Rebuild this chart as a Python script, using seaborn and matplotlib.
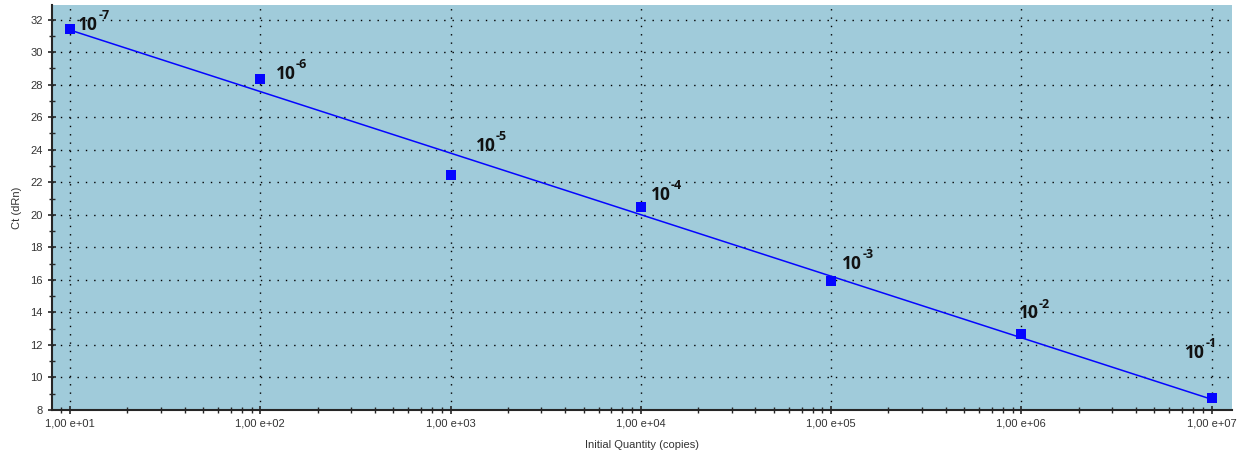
import numpy as np
import pandas as pd
import seaborn as sns
import matplotlib.pyplot as plt
from matplotlib.ticker import FuncFormatter, MultipleLocator, LogLocator, NullFormatter

# Data
quantity = [1e1, 1e2, 1e3, 1e4, 1e5, 1e6, 1e7]
ct = [31.45, 28.35, 22.45, 20.45, 15.95, 12.65, 8.75]
dilution = ['-7', '-6', '-5', '-4', '-3', '-2', '-1']
df = pd.DataFrame({'quantity': quantity, 'ct': ct})

sns.set_style('ticks')
plt.rcParams['font.family'] = ['Liberation Sans', 'DejaVu Sans']

fig = plt.figure(figsize=(12.49, 4.61), dpi=100)
ax = fig.add_axes([0.0416, 0.111, 0.9444, 0.878])
ax.set_facecolor('#a0cbda')

sns.regplot(data=df, x='quantity', y='ct', logx=True, ci=None, ax=ax,
            marker='s', color='#0505ff',
            scatter_kws={'s': 42, 'zorder': 4, 'linewidths': 0, 'alpha': 1},
            line_kws={'lw': 1.1, 'zorder': 3})

ax.set_xscale('log')
ax.set_xlim(10 ** 0.905, 10 ** 7.105)
ax.set_ylim(8, 32.9)

# label offsets (points) for each dilution: "10" then the exponent
offsets = [(6, -3.5), (11, -2.5), (18, 14.5), (7, 2.5), (8, 5.5), (-2, 8.5), (-19, 26)]
for q, c, exp, off in zip(quantity, ct, dilution, offsets):
    ax.annotate('10', (q, c), xytext=off, textcoords='offset points',
                fontsize=12.5, fontweight='bold', family='Open Sans',
                color='#111111', ha='left', va='bottom')
    ax.annotate(exp, (q, c), xytext=(off[0] + 14.5, off[1] + 8.5),
                textcoords='offset points', fontsize=9, fontweight='bold',
                family='Open Sans', color='#111111', ha='left', va='bottom')

ax.set_xticks(quantity)
ax.xaxis.set_minor_locator(LogLocator(base=10, subs=np.arange(2, 10), numticks=20))
ax.xaxis.set_major_formatter(FuncFormatter(
    lambda v, p: ('%.2e' % v).replace('.', ',').replace('e', ' e')))
ax.xaxis.set_minor_formatter(NullFormatter())
ax.yaxis.set_major_locator(MultipleLocator(2))
ax.yaxis.set_minor_locator(MultipleLocator(1))

ax.grid(True, which='major', color='black', linestyle=(0, (1, 5)), linewidth=1)
ax.tick_params(which='major', direction='inout', length=6, width=1.2,
               labelsize=8, labelcolor='#333333')
ax.tick_params(which='minor', direction='inout', length=4, width=1)
for s in ['top', 'right']:
    ax.spines[s].set_visible(False)
for s in ['left', 'bottom']:
    ax.spines[s].set_linewidth(1.5)

ax.set_xlabel('Initial Quantity (copies)', fontsize=8, color='#333333', labelpad=8)
ax.set_ylabel('Ct (dRn)', fontsize=8, color='#333333', labelpad=6)

fig.savefig('out.png', dpi=100)
